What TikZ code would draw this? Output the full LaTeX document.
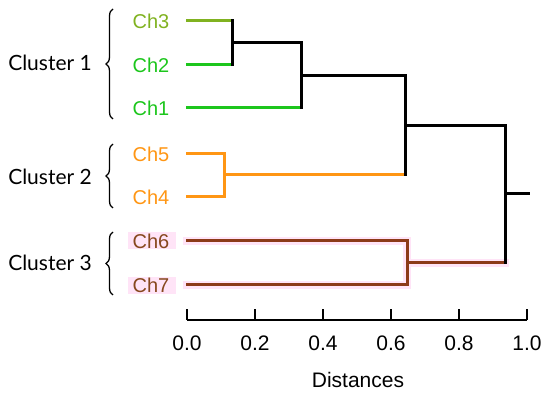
\documentclass[tikz,border=0pt]{standalone}
\usepackage{fontspec}
\setmainfont{Liberation Sans}
\newfontfamily\clusterfont{Lato}
\usetikzlibrary{decorations.pathreplacing}
\definecolor{oliveg}{RGB}{128,178,32}
\definecolor{brightg}{RGB}{28,198,28}
\definecolor{orng}{RGB}{255,150,20}
\definecolor{brwn}{RGB}{140,58,24}
\definecolor{brwntxt}{RGB}{135,72,30}
\definecolor{pinkhl}{RGB}{255,228,247}
\tikzset{leaf/.style={inner sep=0pt,font=\fontsize{20}{20}\selectfont},
  branch/.style={line width=3pt,line cap=rect},
  halo/.style={line width=8pt,pinkhl,line cap=rect},
  clus/.style={anchor=east,inner sep=0pt,font=\clusterfont\fontsize{21}{21}\selectfont},
  brc/.style={decorate,decoration={brace,amplitude=7pt},line width=1.3pt},
  tick/.style={font=\fontsize{21}{21}\selectfont}}

\begin{document}
\begin{tikzpicture}[x=1pt,y=-1pt]
\useasboundingbox (0,0) rectangle (550,395);
% leaves
\coordinate (s3) at (187,21);
\coordinate (s2) at (187,65);
\coordinate (s1) at (187,108);
\coordinate (s5) at (187,154);
\coordinate (s4) at (187,197);
\coordinate (s6) at (187,241);
\coordinate (s7) at (187,285);
% merges
\coordinate (m32) at (232,43);
\coordinate (m321) at (301,76);
\coordinate (m54) at (224,175);
\coordinate (mc12) at (405,126);
\coordinate (m67) at (407,263);
\coordinate (root) at (505,194);
\coordinate (top) at (528,194);
% highlight behind cluster 3
\fill[pinkhl] (128,232) rectangle (176,249);
\fill[pinkhl] (128,277) rectangle (176,294);
\draw[halo] (s6) -- (s6 -| m67) -- (s7 -| m67) -- (s7);
\draw[halo] (m67) -- (m67 -| root);
\node[leaf, oliveg] (ch3) at (151,21) {Ch3};
\node[leaf, brightg] (ch2) at (151,65) {Ch2};
\node[leaf, brightg] (ch1) at (151,108) {Ch1};
\node[leaf, orng] (ch5) at (151,154) {Ch5};
\node[leaf, orng] (ch4) at (151,197) {Ch4};
\node[leaf, brwntxt] (ch6) at (151,241) {Ch6};
\node[leaf, brwntxt] (ch7) at (151,285) {Ch7};
% cluster 1
\draw[branch, oliveg] (s3) -- (s3 -| m32);
\draw[branch, brightg] (s2) -- (s2 -| m32);
\draw[branch, brightg] (s1) -- (s1 -| m321);
\draw[branch] (s3 -| m32) -- (s2 -| m32);
\draw[branch] (m32) -- (m32 -| m321) -- (s1 -| m321);
\draw[branch] (m321) -- (m321 -| mc12);
% cluster 2
\draw[branch, orng] (s5) -| (m54);
\draw[branch, orng] (s4) -| (m54);
\draw[branch, orng] (m54) -- (m54 -| mc12);
\draw[branch] (m321 -| mc12) -- (m54 -| mc12);
% cluster 3
\draw[branch, brwn] (s6) -| (m67);
\draw[branch, brwn] (s7) -| (m67);
\draw[branch, brwn] (m67) -- (m67 -| root);
% top
\draw[branch] (mc12) -- (mc12 -| root) -- (m67 -| root);
\draw[branch] (root) -- (top);
% braces
\draw[brc] (113,119) -- (113,9);
\draw[brc] (113,208) -- (113,144);
\draw[brc] (113,295) -- (113,232);
\node[clus] (c1) at (92,63) {Cluster 1};
\node[clus] (c2) at (92,177) {Cluster 2};
\node[clus] (c3) at (92,263) {Cluster 3};
% axis
\draw[line width=1.3pt] (187,320) -- (527,320);
\foreach \v/\t in {0/0.0,1/0.2,2/0.4,3/0.6,4/0.8,5/1.0}
  \draw[line width=1.3pt] (187+68*\v,320) -- (187+68*\v,309)
    node[pos=0,below=12pt,tick] {\t};
\node[tick] (xl) at (358,380) {Distances};
\end{tikzpicture}
\end{document}
